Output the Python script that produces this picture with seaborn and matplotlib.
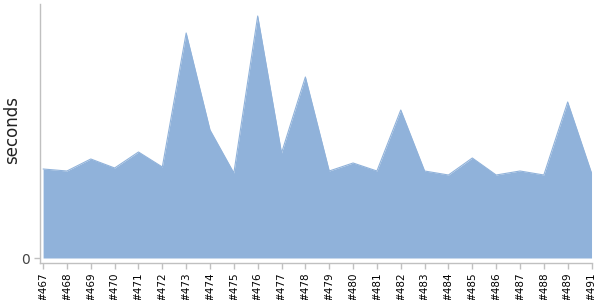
import matplotlib
matplotlib.use("Agg")
import matplotlib.pyplot as plt
import seaborn as sns
import pandas as pd

builds = ["#467", "#468", "#469", "#470", "#471", "#472", "#473", "#474",
          "#475", "#476", "#477", "#478", "#479", "#480", "#481", "#482",
          "#483", "#484", "#485", "#486", "#487", "#488", "#489", "#491"]
seconds = [89, 87, 99, 90, 106, 91, 225, 128, 85, 242, 105, 181, 87, 95,
           87, 148, 87, 83, 100, 83, 87, 83, 156, 85]

df = pd.DataFrame({"build": builds, "seconds": seconds})
df["pos"] = range(len(df))

sns.set_style("white")
plt.rcParams['font.family'] = ['DejaVu Sans']

fig = plt.figure(figsize=(6, 3), dpi=100)
ax = fig.add_axes([40/600, 1 - 263/300, 552/600, 259/300])

fill_color = "#90b2da"
ax.fill_between(df["pos"], df["seconds"], 0, color=fill_color, linewidth=0)
sns.lineplot(data=df, x="pos", y="seconds", ax=ax, color=fill_color, linewidth=0.8)

ax.set_xlim(-0.13, len(df) - 1 + 0.02)
ax.set_ylim(-5, 254)

ax.set_xticks(df["pos"])
ax.set_xticklabels(df["build"], rotation=90, fontsize=7.5, color="black")
ax.set_yticks([0])
ax.set_yticklabels(["0"], fontsize=10, color="#444444")
ax.set_xlabel("")
ax.set_ylabel("seconds", fontsize=12, color="#222222")
ax.yaxis.set_label_coords(-0.035, 0.515)

for s in ["top", "right"]:
    ax.spines[s].set_visible(False)
for s in ["left", "bottom"]:
    ax.spines[s].set_color("#c0c0c0")
    ax.spines[s].set_linewidth(1)

ax.tick_params(axis="x", which="both", bottom=True, length=4, width=1,
               color="#c0c0c0", pad=3)
ax.tick_params(axis="y", which="both", left=True, length=4, width=1,
               color="#c0c0c0", pad=3)

fig.savefig("out.png", dpi=100)
